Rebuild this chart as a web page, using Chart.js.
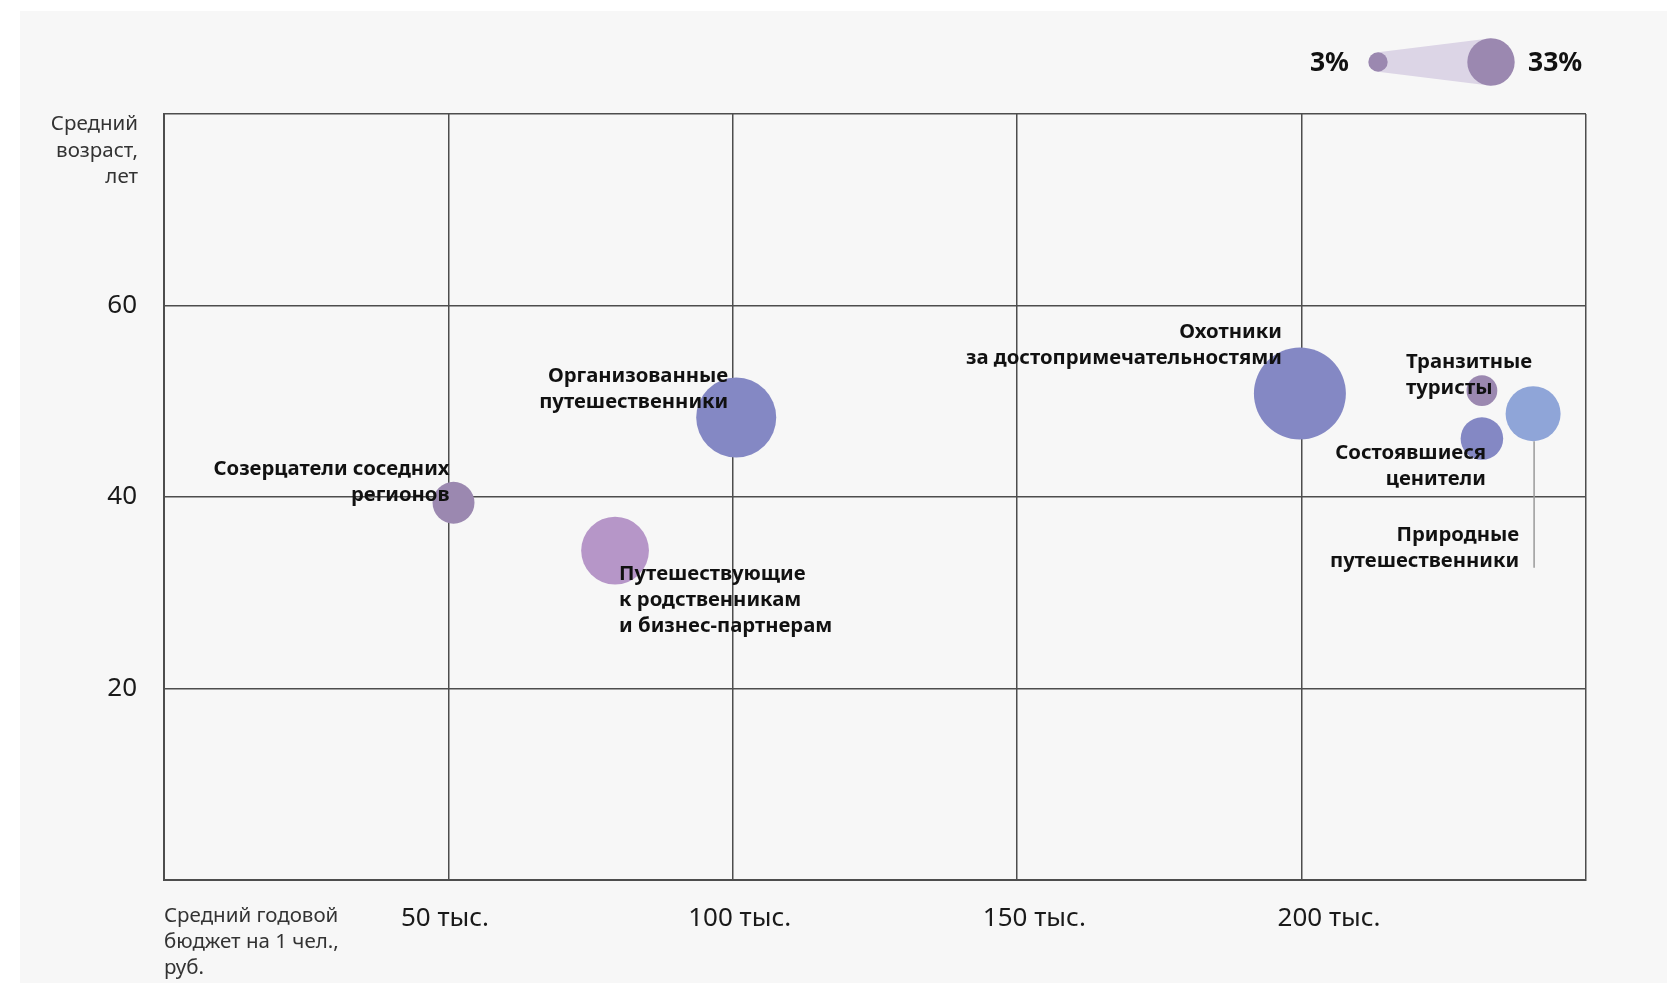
<!DOCTYPE html>
<html lang="ru">
<head>
<meta charset="utf-8">
<title>Сегменты путешественников</title>
<script src="https://cdn.jsdelivr.net/npm/chart.js@4.4.1/dist/chart.umd.min.js"></script>
<style>
  html, body { margin: 0; padding: 0; background: #fff; }
  #wrap { position: relative; width: 1667px; height: 983px; overflow: hidden; }
  #panel { position: absolute; left: 20px; top: 11px; right: 0; bottom: 0; background: #f7f7f7; }
  #chart { position: absolute; left: 0; top: 0; }
</style>
</head>
<body>
<div id="wrap">
  <div id="panel"></div>
  <canvas id="chart" width="1667" height="983"></canvas>
</div>
<script>
// ─── ДАННЫЕ ───
const segments = [
  'Созерцатели соседних регионов',
  'Путешествующие к родственникам и бизнес-партнерам',
  'Организованные путешественники',
  'Охотники за достопримечательностями',
  'Транзитные туристы',
  'Состоявшиеся ценители',
  'Природные путешественники'
];
const budgetK  = [50.9, 79.3, 100.6, 199.7, 231.7, 231.7, 240.7]; // средний годовой бюджет, тыс. руб.
const avgAge   = [39.4, 34.4, 48.3, 50.8, 51.1, 46.1, 48.7];      // средний возраст, лет
const sharePct = [6.5, 17, 23.7, 31.3, 3.5, 6.7, 11.2];           // доля сегмента, %
const xTickValues = [50, 100, 150, 200];
const yTickValues = [20, 40, 60];
const legendShares = [3, 33];

// ─── СТИЛЬ ───
const segmentColors = ['#9b88b0', '#b696c8', '#8488c4', '#8488c4', '#9b88b0', '#8488c4', '#8fa5d8'];
const FONT = '"Noto Sans", sans-serif';
const GRID = '#4d4d4d';

Chart.defaults.font.family = FONT;
Chart.defaults.color = '#1a1a1a';

// подписи сегментов: смещения от центра пузыря
const labelLayout = [
  { lines: ['Созерцатели соседних', 'регионов'], align: 'right', dx: -4, dy: -28 },
  { lines: ['Путешествующие', 'к родственникам', 'и бизнес-партнерам'], align: 'left', dx: 4, dy: 29 },
  { lines: ['Организованные', 'путешественники'], align: 'right', dx: -8, dy: -36 },
  { lines: ['Охотники', 'за достопримечательностями'], align: 'right', dx: -18, dy: -56 },
  { lines: ['Транзитные', 'туристы'], align: 'left', dx: -76, dy: -23 },
  { lines: ['Состоявшиеся', 'ценители'], align: 'right', dx: 4, dy: 20 },
  { lines: ['Природные', 'путешественники'], align: 'right', dx: -14, dy: 127, leader: 154 }
];

const bubbleLabels = {
  id: 'bubbleLabels',
  afterDraw(chart) {
    const ctx = chart.ctx;
    const meta = chart.getDatasetMeta(0);
    ctx.save();
    labelLayout.forEach((lab, i) => {
      const pt = meta.data[i];
      if (!pt) return;
      if (lab.leader) {
        ctx.strokeStyle = '#9a9a9a';
        ctx.lineWidth = 1.5;
        ctx.beginPath();
        ctx.moveTo(pt.x + 1, pt.y + pt.options.radius);
        ctx.lineTo(pt.x + 1, pt.y + lab.leader);
        ctx.stroke();
      }
      ctx.font = '700 20.3px ' + FONT;
      ctx.fillStyle = '#111';
      ctx.textBaseline = 'alphabetic';
      ctx.textAlign = lab.align;
      lab.lines.forEach((line, k) => ctx.fillText(line, pt.x + lab.dx, pt.y + lab.dy + k * 26));
    });

    // заголовки осей
    const area = chart.chartArea;
    ctx.font = '400 20.5px ' + FONT;
    ctx.fillStyle = '#333';
    ctx.textAlign = 'right';
    ['Средний', 'возраст,', 'лет'].forEach((t, k) => ctx.fillText(t, area.left - 26, area.top + 16 + k * 26.5));
    ctx.textAlign = 'left';
    ['Средний годовой', 'бюджет на 1 чел.,', 'руб.'].forEach((t, k) => ctx.fillText(t, area.left, area.bottom + 42 + k * 26));
    ctx.restore();
  }
};

// легенда размера пузырей
const sizeLegend = {
  id: 'sizeLegend',
  afterDraw(chart) {
    const ctx = chart.ctx;
    const cy = 62, x1 = 1378, r1 = 9.7, x2 = 1491, r2 = 23.7;
    ctx.save();
    ctx.fillStyle = '#dcd5e6';
    ctx.beginPath();
    ctx.moveTo(x1, cy - r1);
    ctx.lineTo(x2, cy - r2);
    ctx.lineTo(x2, cy + r2);
    ctx.lineTo(x1, cy + r1);
    ctx.closePath();
    ctx.fill();
    ctx.fillStyle = '#9b88b0';
    [[x1, r1], [x2, r2]].forEach(([x, r]) => {
      ctx.beginPath();
      ctx.arc(x, cy, r, 0, Math.PI * 2);
      ctx.fill();
    });
    ctx.font = '700 26.5px ' + FONT;
    ctx.fillStyle = '#111';
    ctx.textBaseline = 'alphabetic';
    ctx.textAlign = 'right';
    ctx.fillText(legendShares[0] + '%', 1349, 71);
    ctx.textAlign = 'left';
    ctx.fillText(legendShares[1] + '%', 1528, 71);
    ctx.restore();
  }
};

const points = budgetK.map((x, i) => ({ x: x, y: avgAge[i], r: 8.22 * Math.sqrt(sharePct[i]) }));

new Chart(document.getElementById('chart'), {
  type: 'bubble',
  data: {
    labels: segments,
    datasets: [{
      data: points,
      backgroundColor: segmentColors,
      borderWidth: 0,
      hoverBorderWidth: 0,
      clip: false
    }]
  },
  options: {
    responsive: false,
    devicePixelRatio: 1,
    animation: false,
    events: [],
    layout: { padding: { top: 114, right: 81, left: 0, bottom: 0 } },
    plugins: { legend: { display: false }, tooltip: { enabled: false } },
    scales: {
      x: {
        type: 'linear', min: 0, max: 250, z: 1,
        ticks: { display: false, stepSize: 50 },
        grid: { color: GRID, lineWidth: 1.5, drawTicks: false },
        border: { display: true, color: GRID, width: 2 },
        afterFit: s => { s.height = 0; }
      },
      xLabels: {
        type: 'linear', position: 'bottom', min: 2.32, max: 243.6,
        grid: { display: false, drawTicks: false },
        border: { display: false },
        afterBuildTicks: s => { s.ticks = xTickValues.map(v => ({ value: v })); },
        ticks: { padding: 23, font: { size: 26 }, color: '#1a1a1a', maxRotation: 0, autoSkip: false,
          callback: v => v + ' тыс.' },
        afterFit: s => { s.height = 103; }
      },
      y: {
        type: 'linear', min: 0, max: 80, z: 1,
        ticks: { stepSize: 20, padding: 27, font: { size: 26 }, color: '#1a1a1a',
          callback: v => yTickValues.includes(v) ? v : '' },
        grid: { color: GRID, lineWidth: 1.5, drawTicks: false },
        border: { display: true, color: GRID, width: 2 },
        afterFit: s => { s.width = 164; }
      }
    }
  },
  plugins: [bubbleLabels, sizeLegend]
});
</script>
</body>
</html>
